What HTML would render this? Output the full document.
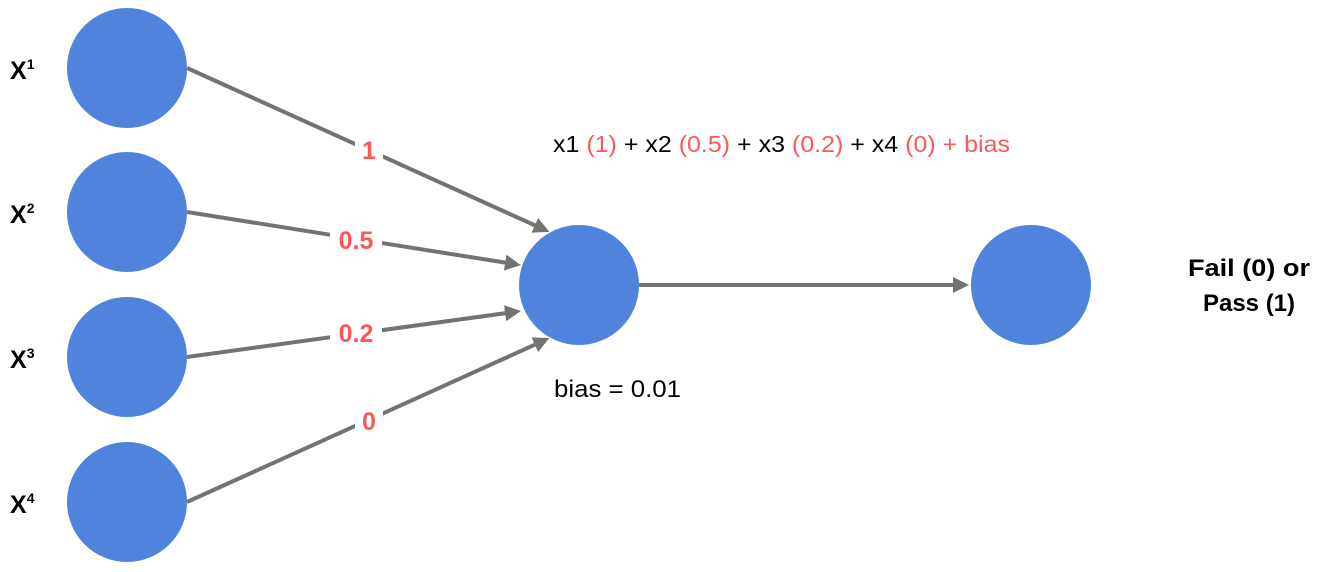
<!DOCTYPE html>
<html><head><meta charset="utf-8"><style>
html,body{margin:0;padding:0;background:#fff;}
svg{display:block;}
text{font-family:"Liberation Sans",sans-serif;}
</style></head><body>
<svg width="1324" height="572" viewBox="0 0 1324 572" xmlns="http://www.w3.org/2000/svg">
<defs>
<marker id="a" markerWidth="16" markerHeight="16" refX="9" refY="8" orient="auto" markerUnits="userSpaceOnUse">
<path d="M0,0 L16,8 L0,16 Z" fill="#737373"/>
</marker>
</defs>
<g stroke="#737373" stroke-width="4" fill="none">
<line x1="187" y1="68" x2="543" y2="229" marker-end="url(#a)"/>
<line x1="187" y1="212" x2="514" y2="264" marker-end="url(#a)"/>
<line x1="187" y1="357" x2="514" y2="312" marker-end="url(#a)"/>
<line x1="187" y1="502" x2="543" y2="341" marker-end="url(#a)"/>
<line x1="639" y1="285" x2="962" y2="285" marker-end="url(#a)"/>
</g>
<g fill="#fff">
<rect x="355" y="134" width="28" height="32"/>
<rect x="330" y="224" width="52" height="32"/>
<rect x="330" y="317" width="52" height="32"/>
<rect x="355" y="405" width="28" height="32"/>
</g>
<g fill="#ff5757" font-weight="bold" font-size="25" text-anchor="middle">
<text x="369" y="159">1</text>
<text x="356" y="249">0.5</text>
<text x="356" y="342">0.2</text>
<text x="369" y="430">0</text>
</g>
<g fill="#5083dc">
<circle cx="127" cy="68" r="60"/>
<circle cx="127" cy="212" r="60"/>
<circle cx="127" cy="357" r="60"/>
<circle cx="127" cy="502" r="60"/>
<circle cx="579" cy="285" r="60"/>
<circle cx="1031" cy="285" r="60"/>
</g>
<g font-weight="bold" font-size="25" fill="#000">
<text x="10" y="79">X<tspan font-size="14" dy="-10">1</tspan></text>
<text x="10" y="223">X<tspan font-size="14" dy="-10">2</tspan></text>
<text x="10" y="368">X<tspan font-size="14" dy="-10">3</tspan></text>
<text x="10" y="513">X<tspan font-size="14" dy="-10">4</tspan></text>
</g>
<text x="553" y="152" font-size="23" fill="#000" textLength="457" lengthAdjust="spacingAndGlyphs">x1 <tspan fill="#ff5757">(1)</tspan> + x2 <tspan fill="#ff5757">(0.5)</tspan> + x3 <tspan fill="#ff5757">(0.2)</tspan> + x4 <tspan fill="#ff5757">(0) + bias</tspan></text>
<text x="554" y="397" font-size="24" fill="#000" textLength="127" lengthAdjust="spacingAndGlyphs">bias = 0.01</text>
<g font-weight="bold" font-size="24" fill="#000" text-anchor="middle">
<text x="1249" y="276" textLength="122" lengthAdjust="spacingAndGlyphs">Fail (0) or</text>
<text x="1249" y="311">Pass (1)</text>
</g>
</svg>
</body></html>
